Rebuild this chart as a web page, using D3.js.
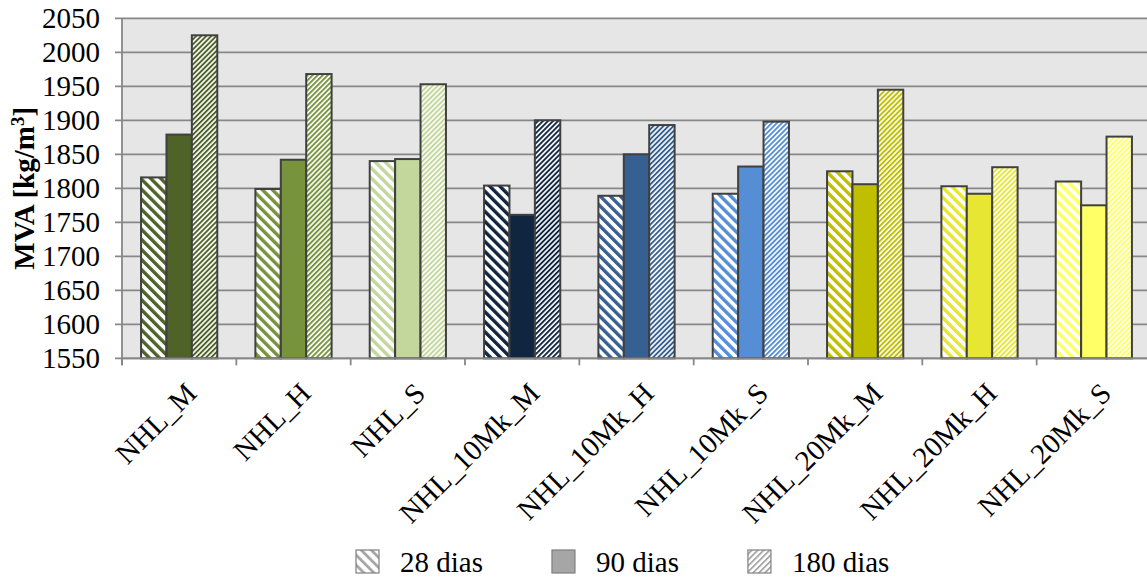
<!DOCTYPE html>
<html>
<head>
<meta charset="utf-8">
<script src="https://cdn.jsdelivr.net/npm/d3@7"></script>
<style>
  html, body { margin: 0; padding: 0; background: #fff; }
  svg { display: block; }
</style>
</head>
<body>
<svg id="chart" width="1147" height="578" font-family="'Liberation Serif', 'DejaVu Serif', serif"></svg>
<script>
// Categories (mortar mixes) and the three curing ages
const categories = ["NHL_M", "NHL_H", "NHL_S", "NHL_10Mk_M", "NHL_10Mk_H", "NHL_10Mk_S", "NHL_20Mk_M", "NHL_20Mk_H", "NHL_20Mk_S"];
const seriesNames = ["28 dias", "90 dias", "180 dias"];

// Bulk density values, kg/m3
const dias28  = [1816, 1799, 1840, 1804, 1789, 1792, 1825, 1803, 1810];
const dias90  = [1879, 1842, 1843, 1761, 1850, 1832, 1806, 1792, 1775];
const dias180 = [2025, 1968, 1953, 1900, 1893, 1898, 1945, 1831, 1876];

const yTicks = [1550, 1600, 1650, 1700, 1750, 1800, 1850, 1900, 1950, 2000, 2050];

// One colour per mix
const mixColors = ["#4F6228", "#77933C", "#C3D69B", "#10253F", "#376092", "#558ED5", "#BFBF00", "#E6E633", "#FFFF66"];

const seriesValues = [dias28, dias90, dias180];

const FONT = "'Liberation Serif', 'Times New Roman', 'DejaVu Serif', serif";

const svg = d3.select("#chart");
const margin = { left: 122, top: 18.3, right: 1151, bottom: 358.3 };

const x = d3.scaleBand().domain(categories).range([margin.left, margin.right]).padding(0);
const xs = d3.scaleBand().domain(seriesNames).range([0, x.bandwidth()]).paddingInner(0).paddingOuter(0.75);
const y = d3.scaleLinear().domain([1550, 2050]).range([margin.bottom, margin.top]);

// Hatch patterns: wide downward diagonal (28 dias) and dense upward diagonal (180 dias)
const defs = svg.append("defs");
function hatch(id, color, period, width, angle) {
  const p = defs.append("pattern")
    .attr("id", id)
    .attr("patternUnits", "userSpaceOnUse")
    .attr("width", period).attr("height", period)
    .attr("patternTransform", `rotate(${angle})`);
  p.append("rect").attr("width", period).attr("height", period).attr("fill", "#fff");
  p.append("rect").attr("width", width).attr("height", period).attr("fill", color);
}
mixColors.forEach((c, i) => {
  hatch(`wide${i}`, c, 7.1, 3.4, -45);
  hatch(`dense${i}`, c, 3.55, 1.9, 45);
});
hatch("wideLegend", "#A6A6A6", 7.1, 2.8, -45);
hatch("denseLegend", "#A6A6A6", 4.2, 1.8, 45);

function fillFor(seriesIdx, catIdx) {
  if (seriesIdx === 0) return `url(#wide${catIdx})`;
  if (seriesIdx === 2) return `url(#dense${catIdx})`;
  return mixColors[catIdx];
}

// Plot background
svg.append("rect")
  .attr("x", margin.left).attr("y", margin.top)
  .attr("width", margin.right - margin.left)
  .attr("height", margin.bottom - margin.top)
  .attr("fill", "#E6E6E6");

const gridColor = "#878787";

// Horizontal gridlines
svg.append("g").selectAll("line").data(yTicks).join("line")
  .attr("x1", margin.left - 7).attr("x2", margin.right)
  .attr("y1", d => y(d)).attr("y2", d => y(d))
  .attr("stroke", gridColor).attr("stroke-width", 1.8);

// Y axis line
svg.append("line")
  .attr("x1", margin.left).attr("x2", margin.left)
  .attr("y1", margin.top).attr("y2", margin.bottom + 7)
  .attr("stroke", gridColor).attr("stroke-width", 1.8);

// Y tick labels
svg.append("g").selectAll("text").data(yTicks).join("text")
  .attr("x", 100).attr("y", d => y(d)).attr("dy", "0.34em")
  .attr("text-anchor", "end")
  .style("font-family", FONT)
  .style("font-size", "29px")
  .text(d => d);

// Bars
const bars = [];
categories.forEach((c, ci) => {
  seriesNames.forEach((s, si) => {
    bars.push({ cat: c, ci, s, si, v: seriesValues[si][ci] });
  });
});
svg.append("g").selectAll("rect").data(bars).join("rect")
  .attr("x", d => x(d.cat) + xs(d.s))
  .attr("y", d => y(d.v))
  .attr("width", xs.bandwidth())
  .attr("height", d => y(1550) - y(d.v))
  .attr("fill", d => fillFor(d.si, d.ci))
  .attr("stroke", "#404040").attr("stroke-width", 2);

// X axis line and category boundary ticks
svg.append("line")
  .attr("x1", margin.left).attr("x2", margin.right)
  .attr("y1", margin.bottom).attr("y2", margin.bottom)
  .attr("stroke", gridColor).attr("stroke-width", 1.8);
svg.append("g").selectAll("line").data(categories.concat(["end"])).join("line")
  .attr("x1", (d, i) => margin.left + i * x.step())
  .attr("x2", (d, i) => margin.left + i * x.step())
  .attr("y1", margin.bottom).attr("y2", margin.bottom + 7)
  .attr("stroke", gridColor).attr("stroke-width", 1.8);

// Category labels, rotated
svg.append("g").selectAll("text").data(categories).join("text")
  .attr("transform", d => `translate(${x(d) + x.bandwidth() / 2 + 12},${388}) rotate(-45)`)
  .attr("text-anchor", "end")
  .attr("dy", "0.34em")
  .style("font-family", FONT)
  .style("font-size", "29px")
  .text(d => d);

// Y axis title
const yTitle = svg.append("text")
  .attr("transform", `translate(34,${(margin.top + margin.bottom) / 2}) rotate(-90)`)
  .attr("text-anchor", "middle")
  .style("font-family", FONT)
  .style("font-size", "29px")
  .style("font-weight", "bold");
yTitle.append("tspan").text("MVA [kg/m");
yTitle.append("tspan").attr("dy", -10).style("font-size", "19px").text("3");
yTitle.append("tspan").attr("dy", 10).text("]");

// Legend
const legendFills = ["url(#wideLegend)", "#A6A6A6", "url(#denseLegend)"];
const legend = svg.append("g");
let lx = 356;
seriesNames.forEach((name, i) => {
  const g = legend.append("g");
  g.append("rect")
    .attr("x", lx).attr("y", 550)
    .attr("width", 23).attr("height", 23)
    .attr("fill", legendFills[i])
    .attr("stroke", "#7F7F7F").attr("stroke-width", 1.2);
  const t = g.append("text")
    .attr("x", lx + 23 + 21).attr("y", 571.5)
    .style("font-family", FONT)
    .style("font-size", "29px")
    .text(name);
  lx += 23 + 21 + t.node().getComputedTextLength() + 69;
});
</script>
</body>
</html>
